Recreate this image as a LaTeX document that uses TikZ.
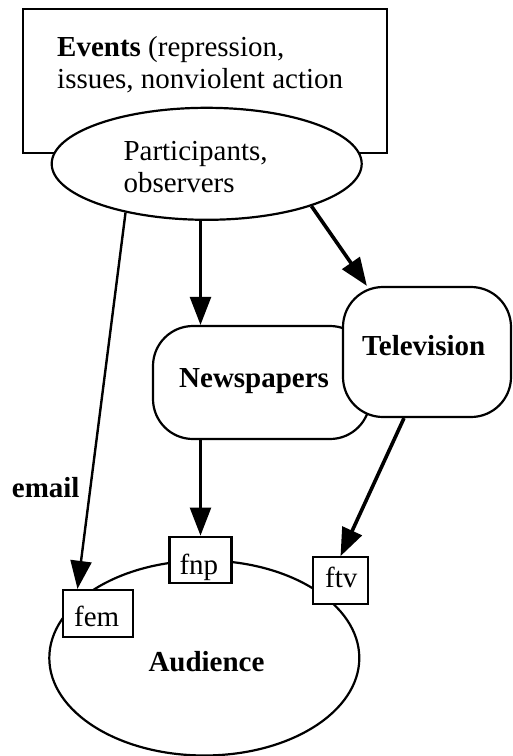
\documentclass[tikz,border=0pt]{standalone}
\usepackage{fontspec}
\setmainfont{Liberation Serif}
\usetikzlibrary{arrows.meta,shapes.geometric,calc}
\tikzset{
  shapebox/.style={draw, line width=2.2pt, fill=white, inner sep=0pt},
  txt/.style={inner sep=0pt, anchor=base west, align=left, font=\fontsize{29}{31.6}\selectfont},
  btxt/.style={txt, font=\fontsize{29}{31.6}\selectfont\bfseries},
  arr/.style={line width=2.4pt, -{Triangle[length=28pt,width=21pt]}},
  tarr/.style={arr, line width=3.6pt}
}
\begin{document}
\begin{tikzpicture}[x=1pt,y=-1pt]
\useasboundingbox (0,0) rectangle (513,756);
% events
\node[shapebox, rectangle, minimum width=364pt, minimum height=144pt] (events) at (205,81) {};
\node[txt] (eventstext) at (57,88.3) {\textbf{Events} (repression,\\issues, nonviolent action};
\node[shapebox, ellipse, minimum width=310pt, minimum height=112pt] (participants) at (206.7,163.8) {};
\node[txt] (participantstext) at (123.3,192.3) {Participants,\\observers};
% media
\node[shapebox, rectangle, rounded corners=40pt, minimum width=217pt, minimum height=113pt] (newspapers) at (261.5,382.5) {};
\node[btxt] (newspaperstext) at (179,387) {Newspapers};
\node[shapebox, rectangle, rounded corners=40pt, minimum width=168pt, minimum height=130pt] (television) at (427,352) {};
\node[btxt] (televisiontext) at (362,355) {Television};
% audience
\node[shapebox, ellipse, minimum width=310pt, minimum height=195pt] (audience) at (204.3,658) {};
\node[btxt] (audiencetext) at (148.3,671.7) {Audience};
\node[shapebox, rectangle, minimum width=62pt, minimum height=46pt] (fnp) at (200.5,559.7) {};
\node[txt] (fnptext) at (179.3,574) {fnp};
\node[shapebox, rectangle, minimum width=55.6pt, minimum height=47pt] (ftv) at (340.5,580.8) {};
\node[txt] (ftvtext) at (325,587.7) {ftv};
\node[shapebox, rectangle, minimum width=70pt, minimum height=46.7pt] (fem) at (97.7,613.3) {};
\node[txt] (femtext) at (74,626.7) {fem};
\node[btxt] (emaillabel) at (11.7,497.3) {email};
% connectors
\draw[arr] (participants.211) -- ($(fem.north west)!0.22!(fem.north east)$);
\draw[arr] (participants.south -| fnp.north) -- (newspapers.north -| fnp.north);
\draw[tarr] (participants.338) -- ($(television.north west)+(25,0)$);
\draw[arr] (newspapers.south -| fnp.north) -- (fnp.north);
\draw[tarr] ($(television.south)+(-23,0)$) -- (ftv.north);
\end{tikzpicture}
\end{document}
